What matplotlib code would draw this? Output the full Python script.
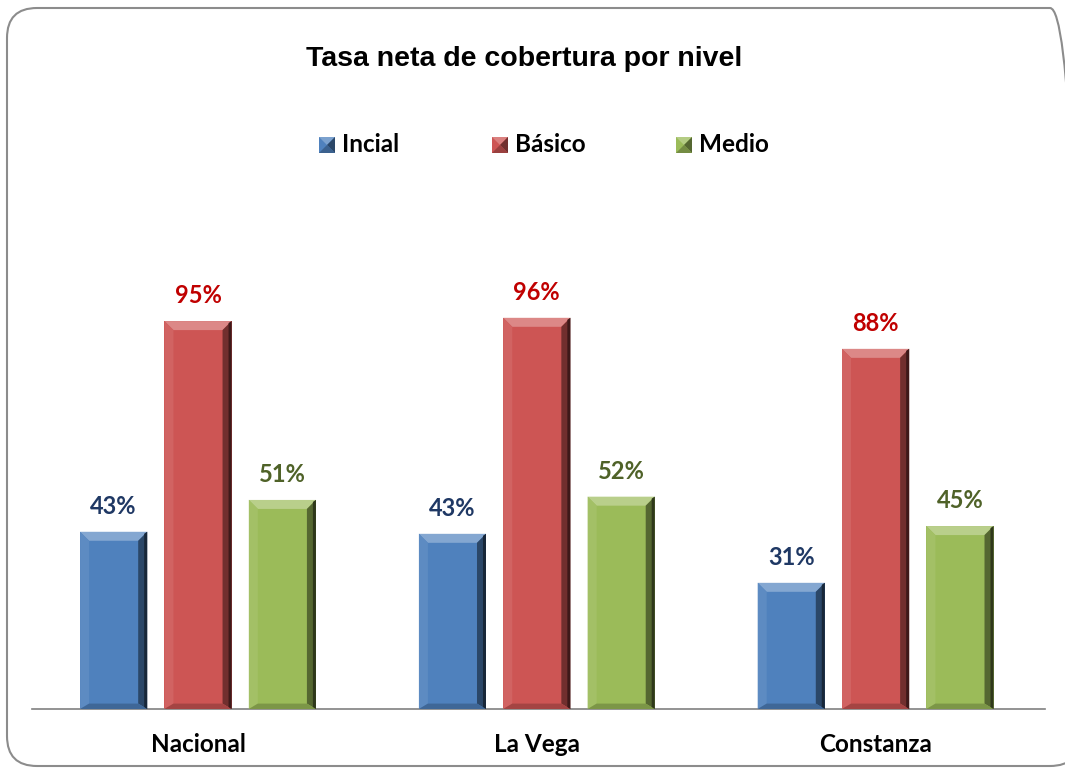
import matplotlib.pyplot as plt
import matplotlib.colors as mcolors
from matplotlib.patches import FancyBboxPatch, Polygon
import numpy as np

# --- Data ---
categories = ['Nacional', 'La Vega', 'Constanza']
series_names = ['Incial', 'Básico', 'Medio']
inicial = [0.434, 0.429, 0.309]
basico = [0.950, 0.958, 0.882]
medio = [0.512, 0.520, 0.448]
labels = [['43%', '43%', '31%'], ['95%', '96%', '88%'], ['51%', '52%', '45%']]

bar_colors = ['#4F81BD', '#CD5554', '#9BBB59']
label_colors = ['#1F3864', '#C00000', '#4F6228']

plt.rcParams['font.family'] = ['Lato', 'DejaVu Sans']

fig = plt.figure(figsize=(10.65, 7.69), dpi=100)
W, H = 1065, 769
ax = fig.add_axes([32 / W, 60 / H, 1013 / W, 490 / H])

x = np.arange(len(categories))
width = 0.198
offset = 0.249
values = [inicial, basico, medio]

bars = []
for i, vals in enumerate(values):
    b = ax.bar(x + (i - 1) * offset, vals, width, color=bar_colors[i], zorder=2)
    bars.append(b)
    for xi, v, lab in zip(x + (i - 1) * offset, vals, labels[i]):
        ax.annotate(lab, (xi, v), xytext=(0, 10), textcoords='offset points',
                    ha='center', va='bottom', fontsize=17, fontweight='bold',
                    color=label_colors[i])

ax.set_xlim(-0.49, 2.5)
ax.set_ylim(0, 1.2)
ax.set_yticks([])
ax.set_xticks(x)
ax.set_xticklabels(categories, fontsize=17.5, fontweight='bold')
ax.tick_params(axis='x', length=0, pad=17)
for s in ['top', 'right', 'left']:
    ax.spines[s].set_visible(False)
ax.spines['bottom'].set_color('#808080')
ax.spines['bottom'].set_linewidth(1.2)
ax.patch.set_alpha(0)


# --- bevel effect on bars (computed from each bar's extent in pixels) ---
def shade(c, f):
    r = np.array(mcolors.to_rgb(c))
    if f > 1:
        r = r + (1 - r) * (f - 1)
    else:
        r = r * f
    return np.clip(r, 0, 1)


def bevel(rect, color, d=9):
    (x0, y0), (x1, y1) = ax.transData.transform(
        [(rect.get_x(), 0), (rect.get_x() + rect.get_width(), rect.get_height())])
    polys = [
        ([(x0, y1), (x1, y1), (x1 - d, y1 - d), (x0 + d, y1 - d)], shade(color, 1.3)),
        ([(x1, y1), (x1, y0), (x1 - d, y0 + d * 0.6), (x1 - d, y1 - d)], shade(color, 0.55)),
        ([(x0, y1), (x0 + d, y1 - d), (x0 + d, y0 + d * 0.6), (x0, y0)], shade(color, 1.08)),
        ([(x0, y0), (x1, y0), (x1 - d, y0 + d * 0.6), (x0 + d, y0 + d * 0.6)], shade(color, 0.8)),
    ]
    for pts, col in polys:
        fig.add_artist(Polygon(pts, closed=True, transform=None, facecolor=col,
                               edgecolor='none', zorder=3))
    # thin dark line at right edge
    fig.add_artist(Polygon([(x1 - 3, y1 - 2), (x1, y1), (x1, y0), (x1 - 3, y0 + 2)],
                           closed=True, transform=None, facecolor=shade(color, 0.3),
                           edgecolor='none', zorder=3))


for i, b in enumerate(bars):
    for rect in b:
        bevel(rect, bar_colors[i])

# --- title ---
fig.text(524 / W, 1 - 59 / H, 'Tasa neta de cobertura por nivel', ha='center', va='center',
         fontsize=20.5, fontweight='bold', family='Liberation Sans')

# --- legend (manual, beveled squares) ---
leg_x = [327, 500, 684]
leg_y = 145
for i, name in enumerate(series_names):
    cx = leg_x[i]
    s = 8
    fig.add_artist(Polygon([(cx - s, H - leg_y - s), (cx + s, H - leg_y - s),
                            (cx + s, H - leg_y + s), (cx - s, H - leg_y + s)],
                           closed=True, transform=None, facecolor=bar_colors[i],
                           edgecolor='none'))
    c = (cx, H - leg_y)
    fig.add_artist(Polygon([(cx - s, H - leg_y + s), (cx + s, H - leg_y + s), c],
                           closed=True, transform=None, facecolor=shade(bar_colors[i], 1.25),
                           edgecolor='none'))
    fig.add_artist(Polygon([(cx + s, H - leg_y + s), (cx + s, H - leg_y - s), c],
                           closed=True, transform=None, facecolor=shade(bar_colors[i], 0.55),
                           edgecolor='none'))
    fig.add_artist(Polygon([(cx - s, H - leg_y - s), (cx + s, H - leg_y - s), c],
                           closed=True, transform=None, facecolor=shade(bar_colors[i], 0.75),
                           edgecolor='none'))
    fig.text((cx + 15) / W, 1 - (leg_y - 1) / H, name, ha='left', va='center',
             fontsize=17.5, fontweight='bold')

# --- rounded border ---
border = FancyBboxPatch((7, 3), 1073, 758, boxstyle='round,pad=0,rounding_size=30',
                        transform=None, facecolor='none', edgecolor='#8C8C8C',
                        linewidth=1.5, zorder=0)
fig.add_artist(border)

fig.savefig('out.png', dpi=100)
